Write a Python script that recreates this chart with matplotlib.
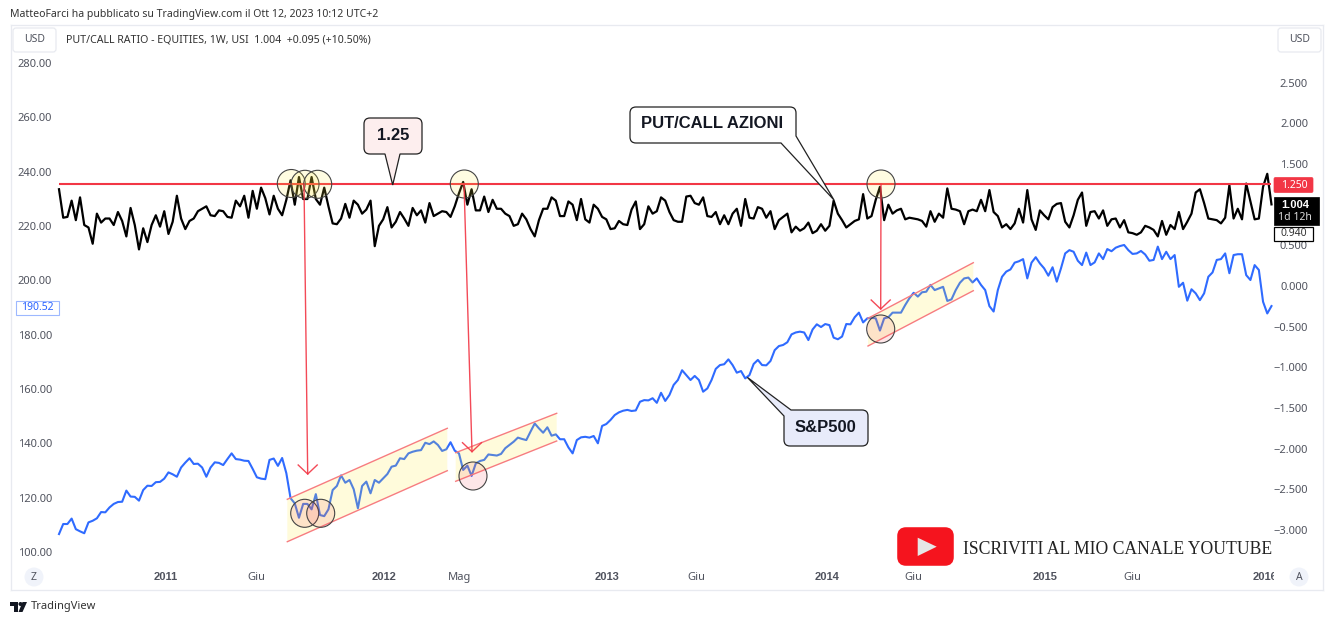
"""TradingView chart: equity put/call ratio against the S&P500 (weekly)."""

import matplotlib

matplotlib.use("Agg")
import matplotlib.pyplot as plt
import numpy as np
from matplotlib.patches import Circle, FancyBboxPatch, PathPatch, Polygon, Rectangle
from matplotlib.path import Path

plt.rcParams["font.family"] = ["Noto Sans", "DejaVu Sans"]

# weekly values
put_call = [
    1.19, .84, .85, 1.05, .81, 1.09, .75, .72, .52, .89,
    .78, .83, .83, .75, .91, .80, .61, .96, .75, .45,
    .71, .54, .75, .87, .73, .92, .64, .79, 1.11, .83,
    .70, .80, .83, .92, .95, .98, .87, .86, .93, .92,
    .85, .84, 1.05, .98, 1.11, .84, 1.17, .95, 1.21, 1.08,
    .88, 1.11, .95, .87, 1.06, 1.30, 1.00, 1.34, 1.07, 1.07,
    1.34, 1.07, 1.00, 1.21, .98, .77, .76, .83, 1.01, .84,
    1.05, 1.00, .89, .94, 1.05, .49, .74, .82, .97, .72,
    .79, .91, .83, .74, .96, .87, .93, .78, 1.02, .86,
    .89, .92, .91, .85, .98, 1.14, 1.28, 1.00, 1.19, .93,
    .93, 1.10, .91, 1.06, .95, .95, .89, .86, .74, .76,
    .89, .82, .70, .61, .81, .95, .95, 1.09, 1.05, .86,
    .86, 1.04, 1.00, .81, 1.07, .82, .78, 1.00, .95, .85,
    .82, .70, .71, .80, .76, .75, .94, 1.04, .70, .76,
    .98, .89, .92, 1.09, 1.05, .91, .81, .79, .79, 1.10,
    1.11, 1.02, 1.00, 1.09, .86, .85, .91, .76, .87, .76,
    .89, .95, .74, 1.07, .84, .83, .97, .95, .84, .92,
    .70, .81, .85, .89, .66, .73, .68, .71, .78, .65,
    .68, .76, .68, .74, 1.05, .89, .81, .72, .76, .80,
    .82, 1.13, .83, .86, 1.06, 1.22, .81, 1.00, .89, .93,
    .95, .82, .84, .83, .82, .80, .73, .92, .79, .89,
    .84, 1.20, .95, .94, .92, .76, .92, .94, .92, 1.06,
    .92, 1.18, .91, .86, .72, .76, .70, .77, .95, .78,
    1.18, .82, .69, .93, .87, .82, .97, 1.01, 1.02, .79,
    .72, .87, 1.06, 1.15, .74, .91, .92, .83, .93, .74,
    .82, .83, .72, .81, .66, .65, .63, .66, .74, .72,
    .69, .61, .80, .63, .75, .70, .91, .70, .79, .89,
    1.15, 1.19, 1.02, .83, .82, .81, .77, .84, 1.24, .83,
    .95, .82, 1.26, 1.04, .82, .83, 1.22, 1.38, 1.004,
]
sp500 = [
    106.6, 110.3, 110.3, 112.3, 108.4, 107.6, 106.9, 110.9, 111.5, 112.4,
    114.7, 114.6, 116.4, 117.7, 118.4, 118.5, 122.6, 120.4, 120.3, 118.9,
    122.8, 124.4, 124.3, 125.7, 125.8, 127.0, 129.3, 128.6, 127.7, 131.1,
    132.9, 134.5, 132.4, 132.5, 131.1, 127.7, 131.1, 133.0, 132.8, 132.0,
    134.2, 136.3, 134.2, 134.0, 133.6, 133.5, 130.6, 127.5, 127.0, 126.8,
    133.9, 134.4, 131.7, 134.6, 129.0, 119.8, 117.9, 112.6, 117.7, 117.7,
    115.7, 121.3, 113.6, 113.2, 115.7, 122.8, 124.3, 128.2, 125.5, 126.5,
    123.1, 116.1, 124.3, 125.9, 121.6, 126.5, 125.5, 127.1, 128.7, 131.4,
    131.8, 134.5, 134.2, 136.3, 136.9, 137.3, 137.5, 140.2, 139.7, 140.7,
    139.4, 137.2, 137.8, 140.4, 137.3, 136.3, 130.2, 131.8, 128.0, 132.6,
    133.5, 133.9, 135.9, 135.7, 135.5, 136.1, 138.2, 139.4, 140.6, 142.1,
    141.6, 141.2, 144.3, 147.3, 145.5, 143.9, 145.9, 142.8, 143.3, 141.5,
    141.5, 138.5, 136.3, 141.2, 142.2, 142.4, 142.1, 142.7, 140.0, 146.4,
    147.1, 148.6, 150.4, 151.4, 152.0, 152.3, 151.9, 152.1, 155.3, 155.9,
    155.8, 156.6, 154.9, 158.6, 155.6, 157.8, 161.5, 163.3, 166.9, 165.1,
    163.3, 164.8, 163.3, 159.0, 160.2, 163.3, 167.4, 168.8, 169.1, 170.9,
    168.8, 166.0, 166.6, 163.9, 165.1, 169.2, 170.7, 168.8, 168.7, 170.3,
    174.3, 175.8, 176.2, 177.2, 180.1, 180.8, 181.1, 180.8, 178.0, 181.9,
    183.8, 182.8, 183.9, 183.5, 178.9, 178.3, 179.3, 183.9, 183.8, 186.4,
    188.1, 184.5, 186.0, 186.2, 186.0, 181.5, 186.0, 186.4, 188.1, 188.1,
    188.1, 190.9, 193.4, 195.4, 194.0, 195.6, 195.8, 198.3, 196.4, 197.0,
    197.6, 192.4, 193.0, 196.4, 199.1, 200.7, 201.0, 199.2, 200.7, 198.3,
    196.4, 190.5, 188.5, 196.4, 201.3, 203.2, 204.0, 206.5, 207.0, 207.8,
    200.7, 206.5, 208.5, 206.2, 204.4, 201.7, 204.8, 199.5, 204.4, 209.9,
    211.1, 210.5, 207.2, 205.6, 210.2, 205.6, 206.6, 209.9, 207.8, 211.5,
    210.7, 212.0, 212.6, 213.0, 211.1, 209.7, 209.9, 210.8, 209.5, 207.2,
    207.5, 212.4, 207.8, 210.5, 207.8, 209.3, 197.6, 199.1, 192.5, 196.7,
    195.2, 192.7, 195.2, 201.3, 202.9, 207.5, 207.8, 209.9, 202.6, 209.3,
    209.6, 209.6, 201.9, 200.1, 205.6, 203.8, 192.1, 187.8, 190.52,
]
level = 1.25
left_ticks = [100, 120, 140, 160, 180, 200, 220, 240, 260, 280]
right_ticks = [-3.0, -2.5, -2.0, -1.5, -1.0, -0.5, 0.0, 0.5, 1.0, 1.5, 2.0, 2.5]
x_weeks = [25.3, 47, 77.3, 95.2, 130.2, 151.5, 182.4, 203, 234.2, 255, 286.4]
x_labels = ["2011", "Giu", "2012", "Mag", "2013", "Giu", "2014", "Giu", "2015", "Giu", "2016"]

TEXT = "#50535e"
RED = "#f23645"
BORDER = "#e8eaf0"
BOLD = "Liberation Sans"

W, H = 1332, 623
fig = plt.figure(figsize=(W / 100, H / 100), dpi=100)

# panel from x=11..1323 and y=25..590 px
ax = fig.add_axes([11 / W, 1 - 590 / H, (1323 - 11) / W, (590 - 25) / H])
ax.set_xlim((11 - 59) / 4.21, (1323 - 59) / 4.21)
ax.set_ylim(100 + (552 - 590) / 2.717, 100 + (552 - 25) / 2.717)
axr = ax.twinx()
axr.set_ylim((286 - 590) / 81.3, (286 - 25) / 81.3)

weeks = np.arange(len(sp500))
ax.plot(weeks, sp500, color="#2f6bff", lw=1.5, solid_joinstyle="round")
axr.plot(weeks, put_call, color="black", lw=1.6, solid_joinstyle="round", zorder=3)
axr.hlines(level, 0, weeks[-1], color=RED, lw=1.5, zorder=4)

for spine in list(ax.spines.values()) + list(axr.spines.values()):
    spine.set_color(BORDER)

ax.set_yticks(left_ticks, [f"{t:.2f}" for t in left_ticks])
ax.tick_params(axis="y", length=0, pad=-29.5, labelsize=8, labelcolor=TEXT)
axr.set_yticks(right_ticks, [f"{t:.3f}".replace("-", "\u2212") for t in right_ticks])
axr.tick_params(axis="y", length=0, pad=-10.8, labelsize=8, labelcolor=TEXT)
for lab in axr.get_yticklabels():
    lab.set_ha("right")
ax.set_xticks(x_weeks, x_labels)
ax.tick_params(axis="x", length=0, pad=-12.8, labelsize=8, labelcolor=TEXT)
for lab in ax.get_xticklabels():
    if lab.get_text().isdigit():
        lab.set_family(BOLD)
        lab.set_fontweight("bold")

# everything drawn by hand on the chart goes on a pixel overlay
ov = fig.add_axes([0, 0, 1, 1])
ov.set_xlim(0, W)
ov.set_ylim(H, 0)
ov.axis("off")
ov.patch.set_alpha(0)


def rounded(pts, r=6):
    """Closed path through (x, y, rounded?) points."""
    n = len(pts)
    verts, codes = [], []
    for i, (x, y, rnd) in enumerate(pts):
        p = np.array([x, y], float)
        if rnd:
            a = np.array(pts[i - 1][:2], float)
            b = np.array(pts[(i + 1) % n][:2], float)
            p0 = p + (a - p) / np.linalg.norm(a - p) * r
            p1 = p + (b - p) / np.linalg.norm(b - p) * r
            verts += [p0, p, p1]
            codes += [Path.LINETO, Path.CURVE3, Path.CURVE3]
        else:
            verts.append(p)
            codes.append(Path.LINETO)
    codes[0] = Path.MOVETO
    verts.append(verts[0])
    codes.append(Path.CLOSEPOLY)
    return Path(verts, codes)


def callout(pts, fill, text, cx, cy):
    ov.add_patch(PathPatch(rounded(pts), fc=fill, ec="#222222", lw=0.9, zorder=6))
    ov.text(cx, cy, text, fontsize=12, color="#131722", ha="center", va="center",
            family=BOLD, fontweight="bold", zorder=7)


def channel(top, bottom):
    (x0, y0), (x1, y1) = top
    (x2, y2), (x3, y3) = bottom
    ov.add_patch(Polygon([(x0, y0), (x1, y1), (x3, y3), (x2, y2)], fc="#ffeb3b", alpha=0.18, ec="none", zorder=2))
    ov.plot([x0, x1], [y0, y1], color="#f77c80", lw=1, zorder=3)
    ov.plot([x2, x3], [y2, y3], color="#f77c80", lw=1, zorder=3)


def arrow(start, tip, half=9.5, back=9):
    ov.plot([start[0], tip[0]], [start[1], tip[1]], color=RED, lw=1, zorder=5, alpha=0.9)
    ov.plot([tip[0] - half, tip[0], tip[0] + half], [tip[1] - back, tip[1], tip[1] - back],
            color=RED, lw=1, zorder=5, alpha=0.9)


channel([(287.3, 499.3), (447.3, 428.3)], [(287.3, 541.7), (447.3, 470.7)])
channel([(455.7, 452.7), (556.7, 413.3)], [(455.7, 481.3), (556.7, 441)])
channel([(868, 318.3), (973.3, 262.7)], [(868, 346), (973.3, 290.7)])

for cx, cy in [(291.3, 183.5), (305, 184.3), (317.7, 184.3), (464.3, 184), (881, 184)]:
    ov.add_patch(Circle((cx, cy), 14, fc="#ffeb3b", alpha=0.15, ec="none", zorder=4))
    ov.add_patch(Circle((cx, cy), 14, fc="none", ec="#444444", lw=0.8, zorder=4))
for cx, cy in [(304.7, 513.3), (320.7, 513.3), (473, 476), (880.7, 329)]:
    ov.add_patch(Circle((cx, cy), 14, fc=RED, alpha=0.12, ec="none", zorder=4))
    ov.add_patch(Circle((cx, cy), 14, fc="none", ec="#444444", lw=0.8, zorder=4))

arrow((304, 184), (307.7, 474))
arrow((464, 184), (472, 451.7))
arrow((881, 184), (880.7, 309))

callout([(364, 118, 1), (422, 118, 1), (422, 154, 1), (400, 154, 0), (392.7, 185, 0), (385, 154, 0), (364, 154, 1)],
        "#fdeeee", "1.25", 393, 135)
callout([(630, 107, 1), (796, 107, 1), (796, 136, 0), (834, 200, 0), (781, 143, 0), (630, 143, 1)],
        "white", "PUT/CALL AZIONI", 712.5, 124)
callout([(791, 410, 0), (868, 410, 1), (868, 446, 1), (784, 446, 1), (784, 416, 0), (747.3, 377.3, 0)],
        "#e8ebfa", "S&P500", 825.5, 428)

# youtube banner
ov.add_patch(FancyBboxPatch((900, 530), 51, 33, boxstyle="round,pad=0,rounding_size=6",
                            mutation_aspect=1, fc="#f5141e", ec="#f5141e", lw=4, zorder=6))
ov.add_patch(Polygon([(917.7, 537.7), (936.7, 546.7), (917.7, 556)], fc="#e6e6e6", ec="none", zorder=7))
ov.text(962.7, 549, "ISCRIVITI AL MIO CANALE YOUTUBE", family="Liberation Serif", fontsize=12.7,
        color="#222222", ha="left", va="center", zorder=7)

# header, legend and buttons
ov.text(10, 14, "MatteoFarci ha pubblicato su TradingView.com il Ott 12, 2023 10:12 UTC+2",
        fontsize=7.55, color="#333333", va="center")
ov.text(66, 40, "PUT/CALL RATIO - EQUITIES, 1W, USI  1.004  +0.095 (+10.50%)",
        fontsize=7.65, color="#333333", va="center")
for x0 in (13, 1278):
    ov.add_patch(FancyBboxPatch((x0, 28), 43, 24, boxstyle="round,pad=0,rounding_size=3",
                                fc="white", ec=BORDER, lw=0.9, zorder=6))
    ov.text(x0 + 21.5, 40, "USD", fontsize=7.5, color=TEXT, ha="center", va="center", zorder=7)

# price labels on the scales
ov.add_patch(Rectangle((16, 301), 43, 14, fc="white", ec="#9db8ff", lw=0.8, zorder=6))
ov.text(37, 308, "190.52", fontsize=7.5, color="#2962ff", ha="center", va="center", zorder=7)
ov.add_patch(FancyBboxPatch((1274, 177.5), 39, 15, boxstyle="round,pad=0,rounding_size=1.5",
                            fc=RED, ec=RED, lw=0.5, zorder=6))
ov.text(1294, 185, "1.250", fontsize=7.5, color="white", ha="center", va="center", zorder=7)
ov.add_patch(Rectangle((1274, 197), 45, 28, fc="black", ec="black", lw=0.5, zorder=6))
ov.text(1295, 204.5, "1.004", fontsize=8, color="white", ha="center", va="center",
        family=BOLD, fontweight="bold", zorder=7)
ov.text(1295, 217.5, "1d 12h", fontsize=7.5, color="#dddddd", ha="center", va="center", zorder=7)
ov.add_patch(Rectangle((1274, 226.7), 39, 14, fc="white", ec="black", lw=0.9, zorder=6))
ov.text(1294, 233.7, "0.940", fontsize=7.5, color="#333333", ha="center", va="center", zorder=7)

# time scale end and corner buttons
ov.add_patch(Rectangle((1274, 568), 48, 21, fc="white", ec="none", zorder=5))
for cx, letter in [(34, "Z"), (1299, "A")]:
    ov.add_patch(Circle((cx, 577), 9.5, fc="#f0f3fa", ec="none", zorder=6))
    ov.text(cx, 577, letter, fontsize=7.5, color=TEXT, ha="center", va="center", zorder=7)

# tradingview mark
ov.add_patch(Polygon([(10, 602), (18, 602), (18, 612), (13.5, 612), (13.5, 606), (10, 606)], fc="#131722", ec="none"))
ov.add_patch(Circle((20.5, 604), 2, fc="#131722", ec="none"))
ov.add_patch(Polygon([(22.5, 602), (27, 602), (22.5, 612), (18.5, 612)], fc="#131722", ec="none"))
ov.text(31, 607, "TradingView", fontsize=8, color="#333333", va="center")

fig.savefig("out.png", dpi=100)
